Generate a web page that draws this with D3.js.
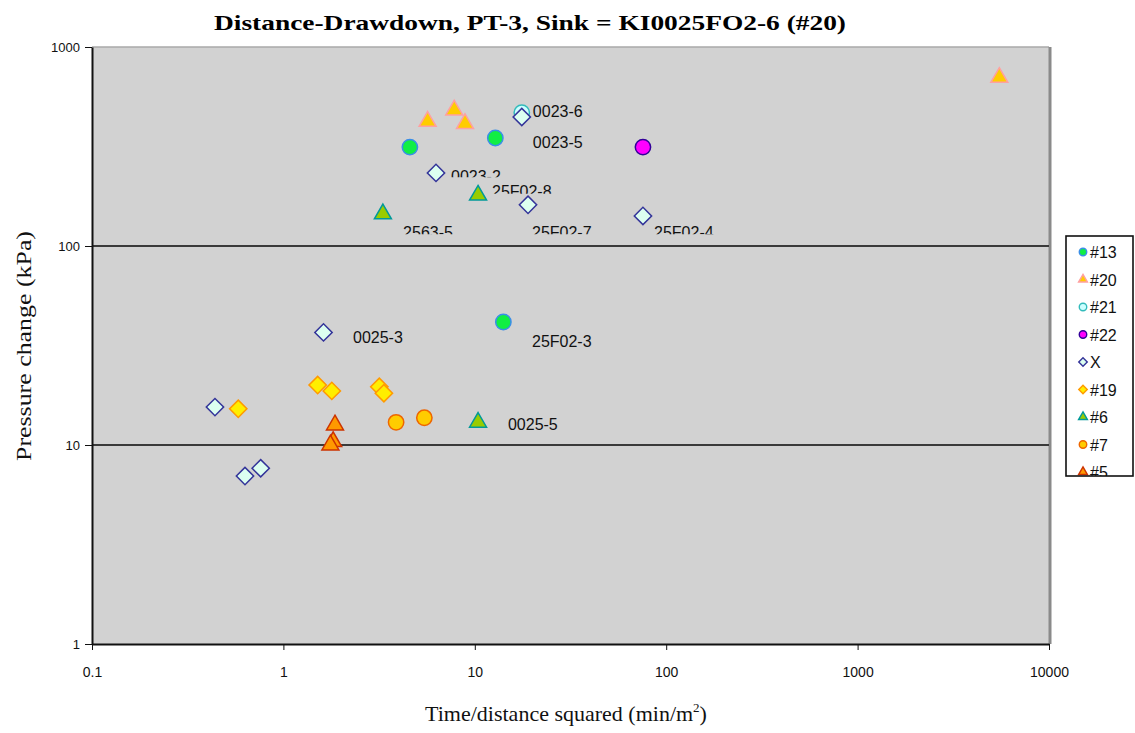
<!DOCTYPE html>
<html>
<head>
<meta charset="utf-8">
<script src="https://cdn.jsdelivr.net/npm/d3@7"></script>
<style>
  html, body { margin: 0; padding: 0; background: #ffffff; }
  svg { display: block; }
</style>
</head>
<body>
<svg id="chart" width="1135" height="733"></svg>
<script>
// Observation series: [time/distance², pressure change kPa]
const s13 = [[4.58, 314], [12.8, 349], [14.1, 41.5]];
const s20 = [[5.67, 423], [7.81, 482], [8.89, 412], [5500, 703]];
const s21 = [[17.6, 468]];
const s22 = [[75.6, 314]];
const sX  = [[17.6, 445], [6.27, 233], [18.97, 161], [75.6, 141.6], [1.62, 36.8],
             [0.439, 15.5], [0.63, 6.98], [0.761, 7.64]];
const s19 = [[0.581, 15.2], [1.51, 20.0], [1.79, 18.7], [3.17, 19.6], [3.35, 18.2]];
const s6  = [[3.31, 145], [10.4, 180], [10.4, 13.0]];
const s7  = [[3.88, 13.0], [5.45, 13.7]];
const s5  = [[1.86, 12.6], [1.82, 10.4], [1.76, 10.0]];

const seriesNames = ["#13", "#20", "#21", "#22", "X", "#19", "#6", "#7", "#5"];
const seriesData  = [s13, s20, s21, s22, sX, s19, s6, s7, s5];

// Point labels anchored in data space; cut = visible fraction of glyph height
const labelText = ["0023-6", "0023-5", "0023-2", "25F02-8", "2563-5", "25F02-7", "25F02-4", "0025-3", "25F02-3", "0025-5"];
const labelAt   = [[20.1, 445], [20.1, 311], [7.51, 210], [12.3, 176], [4.22, 110], [19.9, 110], [86.4, 110], [2.31, 32.5], [19.9, 31.1], [14.9, 11.9]];
const labelCut  = [1, 1, 0.6, 0.7, 0.7, 0.7, 0.7, 1, 1, 1];

const xTicks = [0.1, 1, 10, 100, 1000, 10000];
const yTicks = [1, 10, 100, 1000];
const gridValues = [10, 100];

// Marker style per series
const styles = {
  "#13": {shape: "circle",   fill: "#11ee44", stroke: "#3a8ee8"},
  "#20": {shape: "triangle", fill: "#ffcc00", stroke: "#ffa0a0"},
  "#21": {shape: "circle",   fill: "#ccffff", stroke: "#33bbbb"},
  "#22": {shape: "circle",   fill: "#ff00ff", stroke: "#330099"},
  "X":   {shape: "diamond",  fill: "#dcfff0", stroke: "#333399"},
  "#19": {shape: "diamond",  fill: "#ffee00", stroke: "#ff9900"},
  "#6":  {shape: "triangle", fill: "#99cc00", stroke: "#009999"},
  "#7":  {shape: "circle",   fill: "#ffcc00", stroke: "#ee6600"},
  "#5":  {shape: "triangle", fill: "#ff9900", stroke: "#cc3300"}
};

const svg = d3.select("#chart");
const plot = {left: 92, right: 1049, top: 47, bottom: 644};

const x = d3.scaleLog().domain([0.1, 10000]).range([plot.left, plot.right]);
const y = d3.scaleLog().domain([1, 1000]).range([plot.bottom, plot.top]);

function symbolPath(shape, big) {
  if (shape === "circle") return d3.symbol(d3.symbolCircle, big ? 185 : 44)();
  if (shape === "triangle") return d3.symbol(d3.symbolTriangle, big ? 125 : 34)();
  return d3.symbol(d3.symbolSquare, big ? 150 : 36)();
}
function rot(shape) { return shape === "diamond" ? " rotate(45)" : ""; }

// Plot area background and frame
svg.append("rect")
  .attr("x", plot.left).attr("y", plot.top)
  .attr("width", plot.right - plot.left).attr("height", plot.bottom - plot.top)
  .attr("fill", "#d2d2d2");
svg.append("line")
  .attr("x1", plot.left).attr("x2", plot.right)
  .attr("y1", plot.top).attr("y2", plot.top)
  .attr("stroke", "#a8a8a8").attr("stroke-width", 1.5);
svg.append("line")
  .attr("x1", plot.right + 1).attr("x2", plot.right + 1)
  .attr("y1", plot.top).attr("y2", plot.bottom)
  .attr("stroke", "#8a8a8a").attr("stroke-width", 3);

// Horizontal gridlines
svg.append("g").selectAll("line").data(gridValues).join("line")
  .attr("x1", plot.left).attr("x2", plot.right)
  .attr("y1", d => y(d)).attr("y2", d => y(d))
  .attr("stroke", "#3a3a3a").attr("stroke-width", 2);

// Axes
const fmt = d => String(d);
const xAxis = svg.append("g")
  .attr("transform", `translate(0,${plot.bottom})`)
  .call(d3.axisBottom(x).tickValues(xTicks).tickFormat(fmt).tickSize(6).tickSizeOuter(0));
xAxis.select(".domain").attr("stroke", "#111").attr("stroke-width", 2);
xAxis.selectAll(".tick line").attr("stroke", "#111");
xAxis.selectAll(".tick text")
  .attr("y", 23)
  .attr("font-family", "Liberation Sans, Arial, sans-serif")
  .attr("font-size", 14).attr("fill", "#111");

const yAxis = svg.append("g")
  .attr("transform", `translate(${plot.left},0)`)
  .call(d3.axisLeft(y).tickValues(yTicks).tickFormat(fmt).tickSize(7).tickSizeOuter(0));
yAxis.select(".domain").attr("stroke", "#111").attr("stroke-width", 2);
yAxis.selectAll(".tick line").attr("stroke", "#111");
yAxis.selectAll(".tick text")
  .attr("x", -12)
  .attr("font-family", "Liberation Sans, Arial, sans-serif")
  .attr("font-size", 13).attr("fill", "#111");

// Markers
const marks = svg.append("g");
seriesNames.forEach((name, i) => {
  const st = styles[name];
  marks.append("g").selectAll("path").data(seriesData[i]).join("path")
    .attr("d", symbolPath(st.shape, true))
    .attr("transform", d => `translate(${x(d[0])},${y(d[1])})` + rot(st.shape))
    .attr("fill", st.fill)
    .attr("stroke", st.stroke)
    .attr("stroke-width", 1.5);
});

// Point labels
const defs = svg.append("defs");
const fontSize = 16;
labelText.forEach((t, i) => {
  const px = x(labelAt[i][0]), py = y(labelAt[i][1]);
  const capTop = py - fontSize * 0.72;
  const visBottom = capTop + fontSize * 0.72 * labelCut[i] + (labelCut[i] >= 1 ? 6 : 0);
  const id = "lc" + i;
  defs.append("clipPath").attr("id", id).append("rect")
    .attr("x", px - 2).attr("y", capTop - 4)
    .attr("width", 90).attr("height", visBottom - capTop + 4);
  svg.append("text")
    .attr("clip-path", `url(#${id})`)
    .attr("x", px).attr("y", py)
    .attr("font-family", "Liberation Sans, Arial, sans-serif")
    .attr("font-size", fontSize).attr("fill", "#111")
    .text(t);
});

// Title and axis titles
svg.append("text")
  .attr("x", 530).attr("y", 30)
  .attr("text-anchor", "middle")
  .attr("font-family", "Liberation Serif, Times New Roman, serif")
  .attr("font-weight", "bold").attr("font-size", 22)
  .attr("textLength", 632).attr("lengthAdjust", "spacingAndGlyphs")
  .text("Distance-Drawdown, PT-3, Sink = KI0025FO2-6 (#20)");

const xt = svg.append("text")
  .attr("x", 566).attr("y", 721)
  .attr("text-anchor", "middle")
  .attr("font-family", "Liberation Serif, Times New Roman, serif")
  .attr("font-size", 22).attr("fill", "#111");
xt.append("tspan").text("Time/distance squared (min/m");
xt.append("tspan").attr("font-size", 13).attr("dy", -9).text("2");
xt.append("tspan").attr("dy", 9).text(")");

svg.append("text")
  .attr("transform", "translate(31,346) rotate(-90)")
  .attr("text-anchor", "middle")
  .attr("font-family", "Liberation Serif, Times New Roman, serif")
  .attr("font-size", 22).attr("fill", "#111")
  .attr("textLength", 230).attr("lengthAdjust", "spacingAndGlyphs")
  .text("Pressure change (kPa)");

// Legend
const lg = {x: 1066, y: 236, w: 67, h: 240};
defs.append("clipPath").attr("id", "legclip").append("rect")
  .attr("x", lg.x).attr("y", lg.y).attr("width", lg.w).attr("height", lg.h);
svg.append("rect")
  .attr("x", lg.x).attr("y", lg.y).attr("width", lg.w).attr("height", lg.h)
  .attr("fill", "#ffffff");
const legItems = svg.append("g").attr("clip-path", "url(#legclip)")
  .selectAll("g").data(seriesNames).join("g")
  .attr("transform", (d, i) => `translate(${lg.x + 17},${lg.y + 16 + i * 27.5})`);
legItems.append("path")
  .attr("d", d => symbolPath(styles[d].shape, false))
  .attr("transform", d => rot(styles[d].shape).trim())
  .attr("fill", d => styles[d].fill)
  .attr("stroke", d => styles[d].stroke)
  .attr("stroke-width", 1.4);
legItems.append("text")
  .attr("x", 7).attr("y", 6)
  .attr("font-family", "Liberation Sans, Arial, sans-serif")
  .attr("font-size", 16).attr("fill", "#111")
  .text(d => d);
svg.append("rect")
  .attr("x", lg.x).attr("y", lg.y).attr("width", lg.w).attr("height", lg.h)
  .attr("fill", "none").attr("stroke", "#111").attr("stroke-width", 1.6);
</script>
</body>
</html>
